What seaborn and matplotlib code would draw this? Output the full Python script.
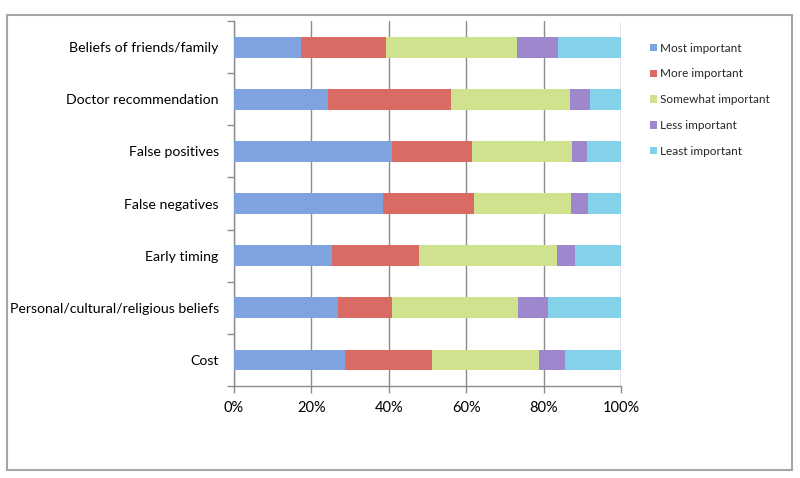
import matplotlib

matplotlib.use("Agg")

import matplotlib.pyplot as plt
import numpy as np
import pandas as pd
import seaborn as sns
from matplotlib.patches import Patch, Rectangle
from matplotlib.ticker import FixedLocator, PercentFormatter

# values (percent of responses)
factors = [
    "Beliefs of friends/family",
    "Doctor recommendation",
    "False positives",
    "False negatives",
    "Early timing",
    "Personal/cultural/religious beliefs",
    "Cost",
]
levels = ["Most important", "More important", "Somewhat important", "Less important", "Least important"]
most_important = [17.2, 24.4, 40.7, 38.6, 25.2, 27.0, 28.6]
more_important = [22.1, 31.7, 20.7, 23.3, 22.5, 13.7, 22.6]
somewhat_important = [33.8, 30.6, 26.0, 25.2, 35.8, 32.6, 27.5]
less_important = [10.6, 5.2, 3.9, 4.3, 4.7, 7.9, 6.8]
least_important = [16.3, 8.1, 8.7, 8.6, 11.8, 18.8, 14.5]
colors = ["#7fa3de", "#d96a64", "#cfe38e", "#9f87cd", "#84d2ea"]

df = pd.DataFrame(
    {
        "factor": factors,
        levels[0]: most_important,
        levels[1]: more_important,
        levels[2]: somewhat_important,
        levels[3]: less_important,
        levels[4]: least_important,
    }
)
cum = df[levels].cumsum(axis=1)
cum["factor"] = df["factor"]

sns.set_theme(style="white")
plt.rcParams["font.family"] = ["Lato", "DejaVu Sans"]

fig = plt.figure(figsize=(8, 4.78), dpi=100)
ax = fig.add_axes([234 / 800, 1 - 386 / 478, (621 - 234) / 800, (386 - 21) / 478])

# outer frame around the whole chart
fig.patches.append(
    Rectangle((7 / 800, 1 - 470 / 478), 785 / 800, 455 / 478, transform=fig.transFigure,
              fill=False, edgecolor="#a6a6a6", linewidth=1.5)
)

for col, color in reversed(list(zip(levels, colors))):
    sns.barplot(data=cum, y="factor", x=col, order=factors, orient="h",
                color=color, width=0.4, saturation=1, linewidth=0, ax=ax, zorder=3)

ax.set_xlim(0, 100)
ax.set_ylim(len(factors) - 0.5, -0.5)
ax.xaxis.set_major_locator(FixedLocator([0, 20, 40, 60, 80, 100]))
ax.xaxis.set_major_formatter(PercentFormatter(decimals=0))
ax.grid(axis="x", color="#8c8c8c", linewidth=1, zorder=0)
ax.grid(axis="y", visible=False)
ax.set_axisbelow(True)
ax.set_xlabel("")
ax.set_ylabel("")

for side in ["top", "right"]:
    ax.spines[side].set_visible(False)
for side in ["left", "bottom"]:
    ax.spines[side].set_color("#8c8c8c")
    ax.spines[side].set_linewidth(1)

ax.yaxis.set_minor_locator(FixedLocator(np.arange(-0.5, len(factors), 1.0)))
ax.tick_params(axis="y", which="major", length=0, pad=11, labelsize=10.2, labelcolor="black")
ax.tick_params(axis="y", which="minor", left=True, length=5, width=1, color="#8c8c8c", direction="out")
ax.tick_params(axis="x", which="major", bottom=True, length=5, width=1, color="#8c8c8c",
               direction="out", pad=6, labelsize=10.5, labelcolor="black")

handles = [Patch(facecolor=c, edgecolor="none") for c in colors]
fig.legend(handles, levels, loc="upper left", bbox_to_anchor=(645 / 800, 1 - 38 / 478),
           frameon=False, fontsize=8.5, handlelength=0.6, handleheight=0.6,
           handletextpad=0.3, labelspacing=1.25, borderaxespad=0)

fig.savefig("out.png", dpi=100)
